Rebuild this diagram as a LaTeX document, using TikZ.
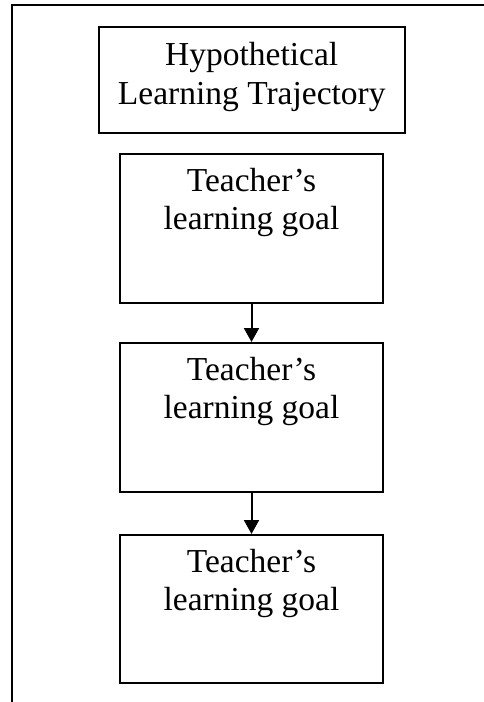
\documentclass[tikz,border=0pt]{standalone}
\usepackage{fontspec}
\setmainfont{Liberation Serif}
\usetikzlibrary{arrows.meta,calc}
\begin{document}
\begin{tikzpicture}[x=1pt,y=-1pt,
  frameline/.style={line width=2pt},
  stagebox/.style={draw,line width=2pt,rectangle,inner sep=0pt},
  boxtext/.style={anchor=base,align=center,inner sep=0pt,
    font=\fontsize{33.5}{38.5}\selectfont},
  flow/.style={line width=2pt,-{Triangle[width=15pt,length=14pt]}}]
  \useasboundingbox (0,0) rectangle (483,702);
  % open frame: top and left edges only
  \draw[frameline] (486,5) -- (12,5) -- (12,706);
  % boxes
  \node[stagebox,minimum width=306.5pt,minimum height=106pt] (hlt) at (251.75,80) {};
  \node[stagebox,minimum width=263pt,minimum height=148.5pt] (g1) at (251.5,228.25) {};
  \node[stagebox,minimum width=263pt,minimum height=149pt] (g2) at (251.5,417.5) {};
  \node[stagebox,minimum width=263pt,minimum height=148pt] (g3) at (251.5,609) {};
  % labels (base anchor sits on the last line)
  \node[boxtext] (thlt) at ($(hlt.north)+(0,78)$) {Hypothetical\\Learning Trajectory};
  \node[boxtext] (tg1) at ($(g1.north)+(0,76.5)$) {Teacher’s\\learning goal};
  \node[boxtext] (tg2) at ($(g2.north)+(0,76.5)$) {Teacher’s\\learning goal};
  \node[boxtext] (tg3) at ($(g3.north)+(0,76.5)$) {Teacher’s\\learning goal};
  % connectors
  \draw[flow] (g1.south) -- (g2.north);
  \draw[flow] (g2.south) -- (g3.north);
\end{tikzpicture}
\end{document}
